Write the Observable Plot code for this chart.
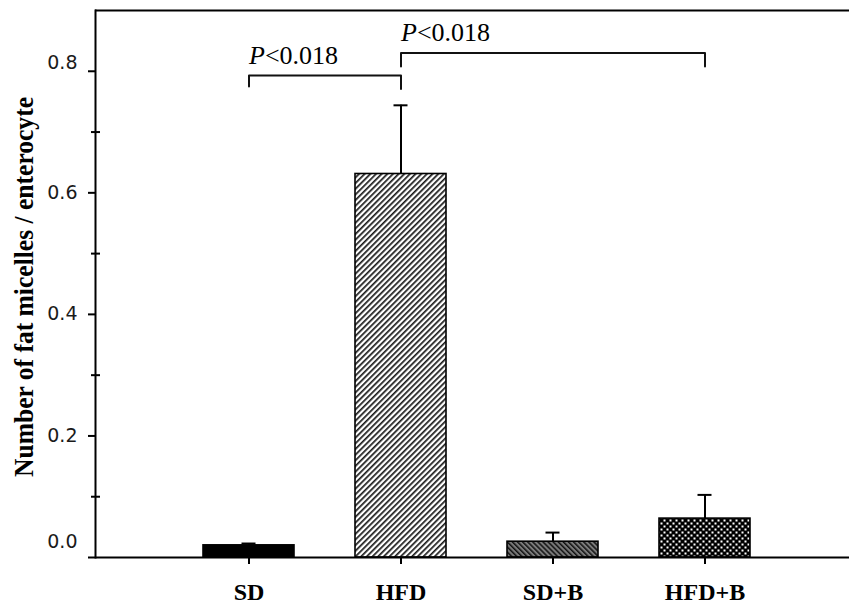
<!DOCTYPE html>
<html><head><meta charset="utf-8">
<script src="https://cdn.jsdelivr.net/npm/d3@7"></script>
<script src="https://cdn.jsdelivr.net/npm/@observablehq/plot@0.6"></script>
<style>body{margin:0;background:#fff} svg{display:block}</style>
</head><body><div id="chart"></div>
<script>
// ---- data ----
const groups = ["SD", "HFD", "SD+B", "HFD+B"];
const means  = [0.020, 0.631, 0.026, 0.064];
const errors = [0.003, 0.113, 0.015, 0.039];
const yTicks = [0, 0.2, 0.4, 0.6, 0.8];
const yMinorTicks = [0.1, 0.3, 0.5, 0.7];
const bracketFrom = ["SD", "HFD"];
const bracketTo = ["HFD", "HFD+B"];
const bracketTop = [0.793, 0.830];
const bracketFromEnd = [0.775, 0.808];
const bracketToEnd = [0.771, 0.808];
const bracketLabels = ["P<0.018", "P<0.018"];
const yTitle = "Number of fat micelles / enterocyte";

// ---- styles ----
const fills = {"SD": "#000", "HFD": "url(#hatchFwd)", "SD+B": "url(#hatchBack)", "HFD+B": "url(#checker)"};
const serif = "Liberation Serif";
const sans = "DejaVu Sans";

const data = groups.map((g, i) => ({group: g, mean: means[i], upper: means[i] + errors[i]}));
const brackets = bracketFrom.map((f, i) => ({from: f, to: bracketTo[i], y: bracketTop[i], y0: bracketFromEnd[i], y1: bracketToEnd[i], label: bracketLabels[i]}));
const bracketPts = brackets.flatMap((b, k) => [
  {k, x: b.from, y: b.y0}, {k, x: b.from, y: b.y}, {k, x: b.to, y: b.y}, {k, x: b.to, y: b.y1}
]);
const noText = () => "";

const svg = Plot.plot({
  width: 849, height: 605,
  marginLeft: 95, marginRight: 0, marginTop: 10, marginBottom: 48,
  style: {background: "#fff", color: "#000", overflow: "visible"},
  x: {domain: groups, paddingInner: 0.4, paddingOuter: 0.672, align: 0.52},
  y: {domain: [0, 0.9]},
  color: {type: "identity"},
  marks: [
    Plot.barY(data, {x: "group", y: "mean", fill: d => fills[d.group], stroke: "#000", strokeWidth: 1.6}),
    Plot.ruleX(data, {x: "group", y1: "mean", y2: "upper", stroke: "#000", strokeWidth: 2}),
    Plot.tickY(data, {x: "group", y: "upper", stroke: "#000", strokeWidth: 2, insetLeft: 38.5, insetRight: 38.5}),
    Plot.ruleY([0.9], {stroke: "#000", strokeWidth: 2}),
    Plot.ruleY([0], {stroke: "#000", strokeWidth: 2}),
    Plot.frame({anchor: "left", stroke: "#000", strokeWidth: 2}),
    Plot.axisY({ticks: yTicks, tickSize: 7, tickFormat: noText, stroke: "#000", strokeWidth: 2, label: null}),
    Plot.axisY({ticks: yMinorTicks, tickSize: 9, dx: 5, tickFormat: noText, stroke: "#000", strokeWidth: 2, label: null}),
    Plot.axisY({ticks: [0.2, 0.4, 0.6], tickFormat: ".1f", tickSize: 0, tickPadding: 18, fontSize: 19, fontFamily: sans, fill: "#1a1a1a", label: null}),
    Plot.axisY({ticks: [0.8], tickFormat: ".1f", tickSize: 0, tickPadding: 18, dy: -8, fontSize: 19, fontFamily: sans, fill: "#1a1a1a", label: null}),
    Plot.axisY({ticks: [0], tickFormat: ".1f", tickSize: 0, tickPadding: 18, dy: -16, fontSize: 19, fontFamily: sans, fill: "#1a1a1a", label: null}),
    Plot.axisX({tickSize: 7, tickPadding: 18, fontSize: 24, fontWeight: "bold", fontFamily: serif, fill: "#000", stroke: "#000", strokeWidth: 2, label: null}),
    Plot.line(bracketPts, {x: "x", y: "y", z: "k", stroke: "#111", strokeWidth: 2, curve: "linear"}),
    Plot.text(brackets, {x: "from", y: "y", text: "label", textAnchor: "start", dy: -20, fontSize: 26, fontFamily: serif, fill: "#000"})
  ]
});

// pattern fills
const defs = d3.select(svg).insert("defs", ":first-child");
const p1 = defs.append("pattern").attr("id", "hatchFwd").attr("patternUnits", "userSpaceOnUse")
  .attr("width", 4).attr("height", 4).attr("patternTransform", "rotate(45)");
p1.append("rect").attr("width", 4).attr("height", 4).attr("fill", "#fff");
p1.append("rect").attr("width", 1.7).attr("height", 4).attr("fill", "#1a1a1a");
const p2 = defs.append("pattern").attr("id", "hatchBack").attr("patternUnits", "userSpaceOnUse")
  .attr("width", 3.6).attr("height", 3.6).attr("patternTransform", "rotate(-45)");
p2.append("rect").attr("width", 3.6).attr("height", 3.6).attr("fill", "#7a7a7a");
p2.append("rect").attr("width", 1.5).attr("height", 3.6).attr("fill", "#111");
const p3 = defs.append("pattern").attr("id", "checker").attr("patternUnits", "userSpaceOnUse")
  .attr("width", 6).attr("height", 6);
p3.append("rect").attr("width", 6).attr("height", 6).attr("fill", "#000");
p3.append("rect").attr("x", 0.5).attr("y", 0.5).attr("width", 2).attr("height", 2).attr("fill", "#fff");
p3.append("rect").attr("x", 3.5).attr("y", 3.5).attr("width", 2).attr("height", 2).attr("fill", "#fff");

// italic P in annotations
svg.querySelectorAll("text").forEach(t => {
  if (t.textContent.startsWith("P<")) {
    const rest = t.textContent.slice(1);
    t.textContent = "";
    d3.select(t).append("tspan").attr("font-style", "italic").text("P");
    d3.select(t).append("tspan").text(rest);
  }
});

// y-axis title
d3.select(svg).append("text")
  .attr("transform", "translate(33,287) rotate(-90)")
  .attr("text-anchor", "middle")
  .attr("font-family", serif).attr("font-weight", "bold").attr("font-size", 28)
  .attr("textLength", 380).attr("lengthAdjust", "spacingAndGlyphs")
  .attr("fill", "#000")
  .text(yTitle);

document.getElementById("chart").appendChild(svg);
</script>
</body></html>
